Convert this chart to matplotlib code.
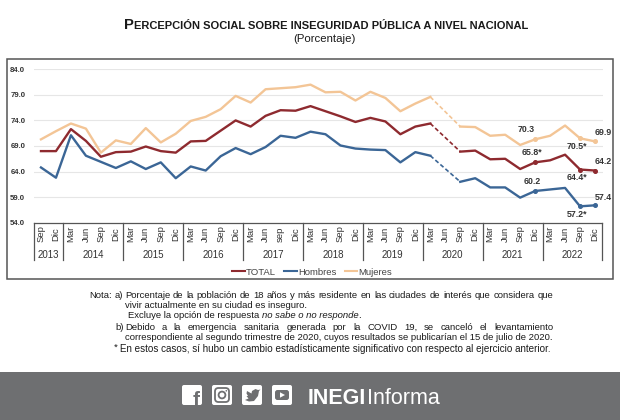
import numpy as np
import matplotlib
matplotlib.use('Agg')
import matplotlib.pyplot as plt
from matplotlib import font_manager as fm
from matplotlib.patches import Rectangle, FancyBboxPatch, Circle, Polygon
from matplotlib.lines import Line2D

names = {f.name for f in fm.fontManager.ttflist}
SANS = 'Liberation Sans' if 'Liberation Sans' in names else 'DejaVu Sans'
NARROW = 'Liberation Sans Narrow' if 'Liberation Sans Narrow' in names else SANS
plt.rcParams['font.family'] = [SANS, 'DejaVu Sans']

# ---------------- data ----------------
months = ["Sep", "Dic"] + ["Mar", "Jun", "Sep", "Dic"] * 3 + ["Mar", "Jun", "sep", "Dic"] + \
         ["Mar", "Jun", "Sep", "Dic"] * 5
years = ["2013", "2014", "2015", "2016", "2017", "2018", "2019", "2020", "2021", "2022"]
nan = np.nan
total = [68.0, 68.0, 72.3, 70.0, 66.9, 67.8, 67.9, 68.9, 68.0, 67.7,
         69.9, 70.0, 72.0, 74.0, 72.8, 74.9, 76.0, 75.9, 76.8, 75.8,
         74.8, 73.7, 74.5, 73.8, 71.3, 72.8, 73.4, nan, 67.9, 68.1,
         66.4, 66.5, 64.5, 65.8, 66.2, 67.3, 64.4, 64.2]
hombres = [64.8, 62.8, 71.1, 67.1, 65.9, 64.7, 66.0, 64.5, 65.8, 62.7,
           65.0, 64.2, 67.0, 68.6, 67.4, 68.8, 71.0, 70.6, 71.8, 71.3,
           69.1, 68.5, 68.3, 68.2, 65.8, 67.8, 67.1, nan, 62.0, 62.7,
           60.9, 60.9, 58.9, 60.2, 60.5, 60.8, 57.2, 57.4]
mujeres = [70.3, 71.9, 73.4, 72.4, 67.7, 70.1, 69.4, 72.5, 69.7, 71.4,
           73.9, 74.7, 76.2, 78.8, 77.5, 80.1, 80.3, 80.5, 81.0, 79.5,
           79.6, 77.9, 79.6, 78.4, 75.8, 77.3, 78.6, nan, 72.8, 72.7,
           71.0, 71.2, 69.2, 70.3, 71.0, 73.0, 70.5, 69.9]
series_names = ["TOTAL", "Hombres", "Mujeres"]
yticks = [54.0, 59.0, 64.0, 69.0, 74.0, 79.0, 84.0]
label_idx = [33, 36, 37]
labels_total = ["65.8*", "64.4*", "64.2"]
labels_hombres = ["60.2", "57.2*", "57.4"]
labels_mujeres = ["70.3", "70.5*", "69.9"]

colors = ["#8e2a2f", "#3b6696", "#f3c596"]
TXT = "#333333"

W, H = 620, 420
fig = plt.figure(figsize=(W / 100, H / 100), dpi=100)

# overlay in pixel coordinates
ov = fig.add_axes([0, 0, 1, 1])
ov.set_xlim(0, W)
ov.set_ylim(H, 0)
ov.axis('off')

# chart frame
ov.add_patch(Rectangle((7.3, 59.3), 605.4, 219.5, fill=False, edgecolor='#555555', lw=1.1))

# main axes
ax_l, ax_r, ax_t, ax_b = 33.5, 602.5, 69.3, 222.7
ax = fig.add_axes([ax_l / W, 1 - ax_b / H, (ax_r - ax_l) / W, (ax_b - ax_t) / H])
ax.set_facecolor('none')
n = len(months)
x = np.arange(n)
ax.set_xlim(-0.5, n - 0.5)
ax.set_ylim(yticks[0], yticks[-1])
ax.set_yticks(yticks)
ax.set_yticklabels([f"{v:.1f}" for v in yticks], fontsize=5.6, fontweight='bold', color=TXT)
ax.tick_params(axis='y', length=0, pad=6)
ax.set_xticks([])
for s in ['top', 'right', 'left']:
    ax.spines[s].set_visible(False)
ax.spines['bottom'].set_color('#555555')
ax.spines['bottom'].set_linewidth(0.9)
for v in yticks[1:]:
    ax.axhline(v, color='#e6e6e6', lw=0.8, zorder=0)

all_series = [total, hombres, mujeres]
all_labels = [labels_total, labels_hombres, labels_mujeres]
gap = int(np.where(np.isnan(np.array(total)))[0][0])
for vals, col, name in zip(all_series, colors, series_names):
    arr = np.array(vals, dtype=float)
    ax.plot(x, arr, color=col, lw=1.7, solid_joinstyle='round', zorder=3, label=name)
    ax.plot([x[gap - 1], x[gap + 1]], [arr[gap - 1], arr[gap + 1]], color=col, lw=1.2,
            dashes=(2.5, 1.5), zorder=3)
    ax.plot(x[label_idx], arr[label_idx], 'o', color=col, ms=2.6, zorder=4)

offsets = {
    0: [(-3, 10), (-3, -8), (8, 9)],
    1: [(-3, 9), (-3, -8), (8, 8)],
    2: [(-9, 10), (-3, -8), (8, 9)],
}
for si, (vals, labs) in enumerate(zip(all_series, all_labels)):
    for k, (i, t) in enumerate(zip(label_idx, labs)):
        dx, dy = offsets[si][k]
        ax.annotate(t, (x[i], vals[i]), xytext=(dx * 0.72, dy * 0.72), textcoords='offset points',
                    ha='center', va='center', fontsize=6.3, fontweight='bold', color=TXT,
                    annotation_clip=False)

# category table under the axes
tr = ax.get_xaxis_transform()
def ay(py):
    return (ax_b - py) / (ax_b - ax_t)
seps = [-0.5, 1.5] + [1.5 + 4 * k for k in range(1, 10)]
for sx in seps:
    ax.plot([sx, sx], [0, ay(260)], color='#555555', lw=0.9, transform=tr, clip_on=False)
for i, m in enumerate(months):
    ax.text(i, ay(234), m, rotation=90, ha='center', va='center', transform=tr,
            fontsize=6.8, family=NARROW, color=TXT)
for k, yname in enumerate(years):
    cx = 0.5 if k == 0 else 3.5 + 4 * (k - 1)
    ax.text(cx, ay(254.5), yname, ha='center', va='center', transform=tr,
            fontsize=7, family=NARROW, color=TXT)

handles = [Line2D([], [], color=c, lw=1.5) for c in colors]
fig.legend(handles, series_names, loc='center', bbox_to_anchor=(312 / W, 1 - 272.3 / H),
           ncol=3, frameon=False, fontsize=6.8, handlelength=1.35, handletextpad=0.1,
           columnspacing=0.9, labelcolor='#444444')

# ---------------- text helpers ----------------
fig.canvas.draw()
renderer = fig.canvas.get_renderer()

def width_px(t):
    return t.get_window_extent(renderer=renderer).width

def runs(x0, y, parts, **kw):
    xx = x0
    for s, extra in parts:
        kk = dict(kw)
        kk.update(extra)
        t = ov.text(xx, y, s, ha='left', **kk)
        xx += width_px(t)
    return xx

def justify(x0, x1, y, line, **kw):
    words = line.split(' ')
    ts = [ov.text(x0, y, w, ha='left', **kw) for w in words]
    ws = [width_px(t) for t in ts]
    g = (x1 - x0 - sum(ws)) / (len(words) - 1)
    xx = x0
    for t, w in zip(ts, ws):
        t.set_x(xx)
        xx += w + g

# title in small caps
tkw = dict(va='baseline', fontweight='bold', color='#1a1a1a')
tP = ov.text(0, 29, "P", fontsize=10.6, **tkw)
tR = ov.text(0, 29, "ERCEPCIÓN SOCIAL SOBRE INSEGURIDAD PÚBLICA A NIVEL NACIONAL", fontsize=8.0, **tkw)
wP, wR = width_px(tP), width_px(tR)
x0 = 326 - (wP + wR) / 2
tP.set_x(x0)
tR.set_x(x0 + wP + 0.5)
ov.text(324, 38.5, "(Porcentaje)", ha='center', va='center', fontsize=8.2, color='#1a1a1a')

# notes
nkw = dict(va='center', fontsize=6.8, color='#1a1a1a')
ov.text(89, 295, "Nota:", ha='left', **nkw)
ov.text(115, 295, "a)", ha='left', **nkw)
justify(125, 553, 295, "Porcentaje de la población de 18 años y más residente en las ciudades de interés que considera que", **nkw)
ov.text(125, 305.5, "vivir actualmente en su ciudad es inseguro.", ha='left', **nkw)
runs(128, 316, [("Excluye la opción de respuesta ", {}), ("no sabe o no responde", {'style': 'italic'}), (".", {})], **nkw)
ov.text(115, 327, "b)", ha='left', **nkw)
justify(125, 553, 327, "Debido a la emergencia sanitaria generada por la COVID 19, se canceló el levantamiento", **nkw)
ov.text(125, 337.5, "correspondiente al segundo trimestre de 2020, cuyos resultados se publicarían el 15 de julio de 2020.", ha='left', **nkw)
ov.text(114, 347, "*", ha='left', **nkw)
ov.text(120, 348.5, "En estos casos, sí hubo un cambio estadísticamente significativo con respecto al ejercicio anterior.",
        ha='left', va='center', fontsize=7.1, color='#1a1a1a')

# footer band
BAND = '#6e6f71'
ov.add_patch(Rectangle((0, 372), W, 48, color=BAND, lw=0))
def sq(x, y, s=20, fc='white'):
    ov.add_patch(FancyBboxPatch((x + 1, y + 1), s - 2, s - 2, boxstyle='round,pad=1,rounding_size=2',
                                fc=fc, ec='none'))
iy = 385
# facebook
sq(182, iy)
ov.text(196, iy + 21, "f", ha='center', va='baseline', fontsize=15, fontweight='bold', color=BAND)
# instagram
sq(212, iy)
ov.add_patch(FancyBboxPatch((215, iy + 3), 14, 14, boxstyle='round,pad=0,rounding_size=3.5',
                            fc='none', ec=BAND, lw=1.3))
ov.add_patch(Circle((222, iy + 10), 3.4, fc='none', ec=BAND, lw=1.3))
ov.add_patch(Circle((226.3, iy + 5.8), 0.8, fc=BAND, ec='none'))
# twitter
sq(242, iy)
ov.add_patch(Polygon([(245, iy + 15), (249, iy + 16.5), (254, iy + 16), (258, iy + 11),
                      (259, iy + 6), (260.5, iy + 4.5), (258, iy + 5), (255.5, iy + 4),
                      (252, iy + 6), (251.5, iy + 8.5), (247, iy + 6), (246.5, iy + 8.5),
                      (248, iy + 11), (246.5, iy + 11), (248.5, iy + 13.5)],
                     closed=True, fc=BAND, ec='none'))
# youtube
sq(272, iy)
ov.add_patch(FancyBboxPatch((275, iy + 5), 14, 10, boxstyle='round,pad=0,rounding_size=2.5',
                            fc=BAND, ec='none'))
ov.add_patch(Polygon([(280, iy + 7.3), (280, iy + 12.7), (285, iy + 10)], closed=True, fc='white', ec='none'))

tI = ov.text(308, 403.5, "INEGI", ha='left', va='baseline', fontsize=15.5, fontweight='bold',
             family=NARROW, color='white')
ov.text(308 + width_px(tI) + 1, 403.5, "Informa", ha='left', va='baseline', fontsize=15.5,
        color='white')

fig.savefig('out.png', dpi=100, facecolor='white')
